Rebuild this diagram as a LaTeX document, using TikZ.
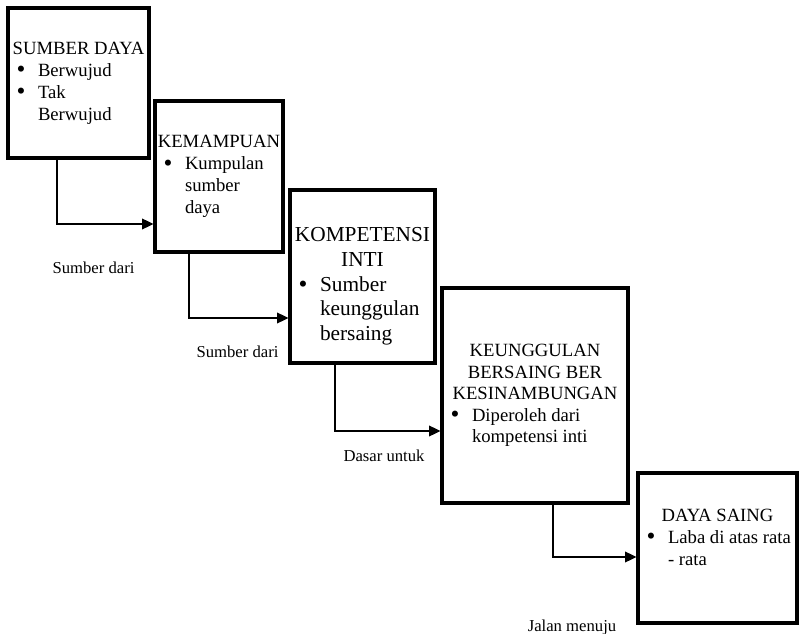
\documentclass[tikz,border=0pt]{standalone}
\usepackage{fontspec}
\setmainfont{Liberation Serif}
\usetikzlibrary{arrows.meta,calc}

% bullet line with hanging indent (break lines with \newline)
\newcommand{\bul}{\par\hangindent=22.5pt\hangafter=1\noindent\hspace*{6.5pt}\makebox[16pt][l]{\smash{\raisebox{-0.08em}{\fontsize{19}{19}\selectfont\textbullet}}}}

\begin{document}
\begin{tikzpicture}[x=0.75pt,y=-0.75pt,
  stage/.style={draw,line width=2.3pt,inner sep=0pt,font=\fontsize{14}{16.5}\selectfont},
  link/.style={-{Triangle[length=8.5pt,width=8pt]},line width=1pt},
  lbl/.style={font=\fontsize{12.5}{15}\selectfont,inner sep=0pt}]
  \useasboundingbox (0,0) rectangle (799,634);
  \node[stage,minimum width=105.75pt,minimum height=112.5pt] (res) at (78.5,83)
    {\parbox{105.75pt}{\centering SUMBER DAYA\par\raggedright\bul Berwujud\bul Tak\newline Berwujud}};
  \node[stage,minimum width=96pt,minimum height=113.25pt] (cap) at (219,176.5)
    {\parbox{96pt}{\centering KEMAMPUAN\par\raggedright\bul Kumpulan\newline sumber\newline daya}};
  \node[stage,minimum width=108.75pt,minimum height=129.75pt,font=\fontsize{16}{18.5}\selectfont] (core) at (362.5,276.5)
    {\parbox{108.75pt}{\vspace*{15pt}\centering KOMPETENSI\\INTI\par\raggedright\bul Sumber\newline keunggulan\newline bersaing}};
  \node[stage,minimum width=139.5pt,minimum height=161.25pt,font=\fontsize{14}{16.2}\selectfont] (adv) at (535,395.5)
    {\parbox{139.5pt}{\centering KEUNGGULAN\\BERSAING BER\\KESINAMBUNGAN\par\raggedright\bul Diperoleh dari\newline kompetensi inti}};
  \node[stage,minimum width=119.25pt,minimum height=112.5pt] (comp) at (717.5,548)
    {\parbox{119.25pt}{\centering DAYA SAING\par\raggedright\bul Laba di atas rata\newline - rata\par\vspace*{16.5pt}}};

  \draw[link] ($(res.south)+(-21.5,0)$) |- ($(cap.west)+(0,47.5)$);
  \draw[link] ($(cap.south)+(-30,0)$) |- ($(core.west)+(0,41.5)$);
  \draw[link] ($(core.south)+(-27.5,0)$) |- ($(adv.west)+(0,35.5)$);
  \draw[link] ($(adv.south)+(18,0)$) |- ($(comp.west)+(0,9)$);

  \node[lbl] (l1) at (93.5,268) {Sumber dari};
  \node[lbl] (l2) at (237.5,352) {Sumber dari};
  \node[lbl] (l3) at (384,456) {Dasar untuk};
  \node[lbl] (l4) at (572,627) {Jalan menuju};
\end{tikzpicture}
\end{document}
